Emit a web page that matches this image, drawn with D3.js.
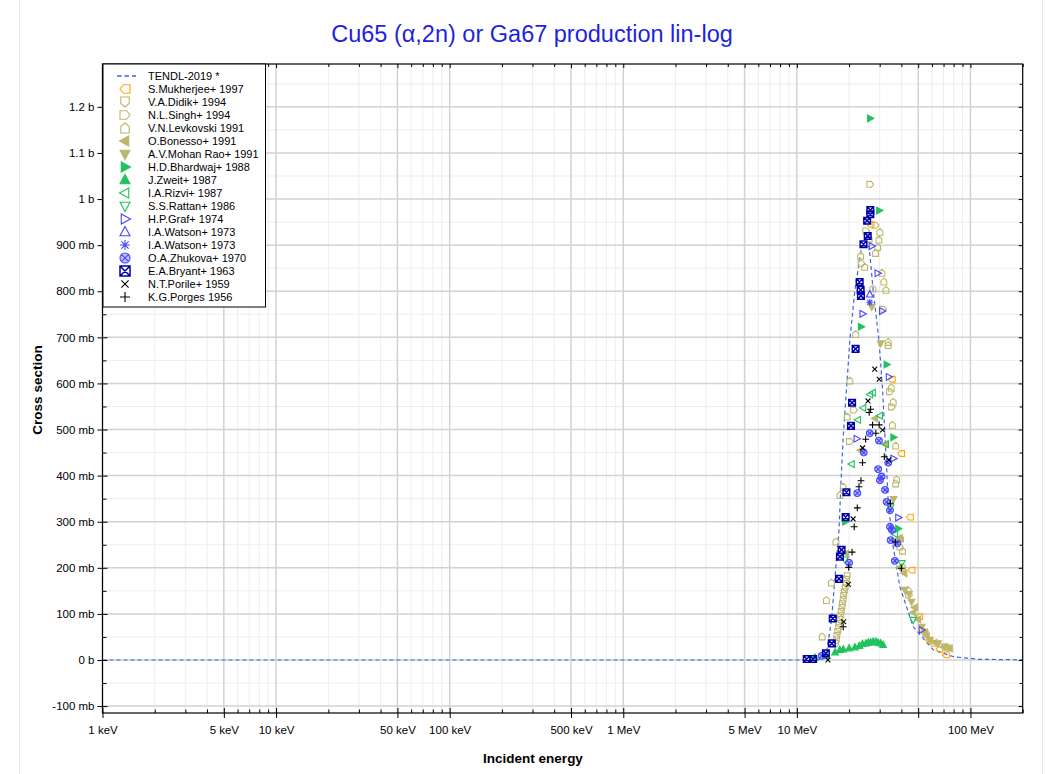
<!DOCTYPE html>
<html><head><meta charset="utf-8">
<script src="https://cdn.jsdelivr.net/npm/d3@7"></script>
<style>
body{margin:0;background:#fff}
text{font-family:"Liberation Sans",Arial,sans-serif}
</style>
</head><body>
<svg id="c" width="1053" height="774"></svg>
<script>
// ---------- DATA (energy in MeV, cross section in mb) ----------
const xTickValues = [0.001,0.005,0.01,0.05,0.1,0.5,1,5,10,100];
const xTickLabels = ["1 keV","5 keV","10 keV","50 keV","100 keV","500 keV","1 MeV","5 MeV","10 MeV","100 MeV"];
const yTickValues = [-100,0,100,200,300,400,500,600,700,800,900,1000,1100,1200];
const yTickLabels = ["-100 mb","0 b","100 mb","200 mb","300 mb","400 mb","500 mb","600 mb","700 mb","800 mb","900 mb","1 b","1.1 b","1.2 b"];

const tendlE = [0.001,13.0,13.6,14.8,15.85,16.6,17.5,17.9,18.5,19.3,20.2,21.6,23.6,24.8,26.1,27.5,29.7,31.2,32.2,32.6,33.6,35.9,39.2,46.8,61.1,80,113,200];
const tendlV = [0,0,1.5,14.5,87,181,282,376,484,586,694,803,896,900,896,803,694,586,484,448,340,246,159,72,22,7,1.5,0.3];

const mukherjee = [[26.6,945],[35.2,609],[39.9,448],[44.8,310],[45.8,195],[50.7,94],[54.0,61],[57.9,43],[61.1,36],[66.2,23],[72.2,11]];
const didik = [[16.7,35],[16.9,43],[17.0,52],[17.2,61],[17.4,69],[17.5,78],[17.7,87],[17.9,95],[18.0,104],[18.2,113],[18.3,121],[18.5,130],[18.6,139],[18.8,147],[19.0,156],[19.2,165],[19.3,174],[19.5,182]];
const singh = [[26.5,1032],[28.4,943],[25.1,931],[23.6,860],[31.4,761],[34.4,582],[35.3,549],[21.4,542],[20.2,474],[44.3,141]];
const levkovski = [[30.1,929],[26.1,914],[29.7,912],[29.2,896],[28.4,883],[23.3,877],[24.6,853],[30.9,840],[31.7,821],[32.6,803],[27.4,806],[33.6,690],[33.6,683],[21.8,707],[35.0,591],[20.2,606],[35.9,560],[19.5,528],[35.5,510],[37.1,465],[18.5,376],[37.5,392],[37.1,383],[17.7,358],[40.6,237],[40.6,202],[15.8,168],[14.0,51],[14.8,130],[16.8,257],[39.6,264],[39.2,246],[43.7,152]];
const bonesso = [[28.2,524],[32.2,468],[23.3,455],[39.2,264],[19.2,231],[39.2,201],[41.6,188],[47.8,114],[46.8,103],[50,88],[56,52],[62,38],[70,28],[76,25]];
const mohanRao = [[27.0,766],[30.4,687],[36.0,349],[41.9,152],[44.3,143],[45.8,126],[52.4,72],[54.7,58],[58.4,43],[65.2,36],[71.1,29],[74,27]];
const bhardwaj = [[26.45,1175],[29.8,975],[23.4,723],[32.9,641],[36.0,483],[38.4,285],[19.0,300]];
const zweit = [[12.7,5],[14.8,9],[16.6,16.7],[17.7,21.7],[18.5,23.2],[20.0,25.4],[21.6,27.5],[22.9,30.4],[23.9,34.7],[25.0,36.2],[25.8,37.5],[26.6,38.4],[27.5,39.7],[28.5,39.7],[29.4,37.5],[30.4,36.2],[31.4,32.5]];
const rizvi = [[27.4,580],[26.4,576],[24.1,547],[30.1,530],[22.5,521],[20.7,425],[32.6,468],[36.8,273]];
const rattan = [[34.6,331],[18.9,218],[46.8,87],[40.2,210]];
const graf = [[27.0,898],[29.2,839],[23.9,751],[31.0,757],[33.9,614],[22.1,480],[36.0,437],[38.4,309],[52.4,65]];
const watsonA = [[26.3,793]];
const watsonB = [[26.3,776]];
const zhukova = [[26.3,492],[29.7,476],[24.3,450],[29.4,414],[30.8,398],[30.1,390],[32.2,369],[22.3,362],[32.9,343],[34.4,325],[34.4,289],[35.3,282],[34.7,260],[36.7,215],[20.0,211],[13.9,9],[33.6,428],[37.9,253]];
const bryant = [[26.5,976],[26.5,967],[25.4,953],[25.6,920],[24.2,902],[23.0,820],[23.3,803],[23.4,790],[21.8,675],[20.8,558],[20.5,508],[19.3,364],[19.1,310],[18.1,239],[17.7,224],[17.5,176],[16.1,90],[15.9,36],[14.7,14.5],[12.4,2.2],[11.4,2.2]];
const porile = [[28.1,631],[29.8,609],[25.7,562],[31.2,499],[23.9,460],[33.9,434],[21.1,306],[19.8,164],[18.6,83],[15.1,0]];
const porges = [[26.6,544],[26.1,537],[27.3,510],[29.8,510],[28.5,492],[24.9,479],[23.9,428],[23.4,389],[22.8,376],[31.9,441],[34.6,340],[22.3,330],[21.4,289],[36.9,256],[20.8,234],[19.9,201],[40.0,199],[18.5,72]];

const seriesNames = ["S.Mukherjee+ 1997","V.A.Didik+ 1994","N.L.Singh+ 1994","V.N.Levkovski 1991","O.Bonesso+ 1991","A.V.Mohan Rao+ 1991","H.D.Bhardwaj+ 1988","J.Zweit+ 1987","I.A.Rizvi+ 1987","S.S.Rattan+ 1986","H.P.Graf+ 1974","I.A.Watson+ 1973","I.A.Watson+ 1973","O.A.Zhukova+ 1970","E.A.Bryant+ 1963","N.T.Porile+ 1959","K.G.Porges 1956"];
const seriesData = [mukherjee,didik,singh,levkovski,bonesso,mohanRao,bhardwaj,zweit,rizvi,rattan,graf,watsonA,watsonB,zhukova,bryant,porile,porges];

// ---------- STYLES ----------
const ORANGE="#ffa500", KHAKI="#bdb76b", GREEN="#1fc35c", BLUE="#4646ff", NAVY="#0000a8";
const styles = [
 {c:ORANGE,s:"houseL",f:false},{c:KHAKI,s:"houseD",f:false},{c:KHAKI,s:"houseR",f:false},{c:KHAKI,s:"houseU",f:false},
 {c:KHAKI,s:"triL",f:true},{c:KHAKI,s:"triD",f:true},{c:GREEN,s:"triR",f:true},{c:GREEN,s:"triU",f:true},
 {c:GREEN,s:"triL",f:false},{c:GREEN,s:"triD",f:false},{c:BLUE,s:"triR",f:false},{c:BLUE,s:"triU",f:false},
 {c:BLUE,s:"star",f:false},{c:BLUE,s:"circX",f:false,semi:true},{c:NAVY,s:"sqX",f:false,thick:true},
 {c:"#000",s:"x",f:false},{c:"#000",s:"plus",f:false}
];

const house=[[0,-1],[0.85,-0.3],[0.85,1],[-0.85,1],[-0.85,-0.3]];
const tri=[[0,-1.1],[1,0.75],[-1,0.75]];
function poly(pts,r,deg){const a=deg*Math.PI/180,c=Math.cos(a),s=Math.sin(a);
 return "M"+pts.map(([px,py])=>((px*c-py*s)*r).toFixed(2)+","+((px*s+py*c)*r).toFixed(2)).join("L")+"Z";}
function symPath(shape,r){
 const k=0.72*r;
 switch(shape){
  case "houseU":return poly(house,r,0);
  case "houseR":return poly(house,r,90);
  case "houseD":return poly(house,r,180);
  case "houseL":return poly(house,r,270);
  case "triU":return poly(tri,r,0);
  case "triR":return poly(tri,r,90);
  case "triD":return poly(tri,r,180);
  case "triL":return poly(tri,r,270);
  case "star":return `M${-r},0L${r},0M0,${-r}L0,${r}M${-k},${-k}L${k},${k}M${-k},${k}L${k},${-k}`;
  case "x":return `M${-k},${-k}L${k},${k}M${-k},${k}L${k},${-k}`;
  case "plus":return `M${-r},0L${r},0M0,${-r}L0,${r}`;
  case "circX":return `M${r},0A${r},${r} 0 1 1 ${-r},0A${r},${r} 0 1 1 ${r},0ZM${-k},${-k}L${k},${k}M${-k},${k}L${k},${-k}`;
  case "sqX":return `M${-r},${-r}L${r},${-r}L${r},${r}L${-r},${r}ZM${-r},${-r}L${r},${r}M${-r},${r}L${r},${-r}`;
 }
}

// ---------- LAYOUT ----------
const svg=d3.select("#c");
const L=102.5,R=1022.7,T=64,B=713;
const x=d3.scaleLog().domain([0.001,200]).range([L,R]);
const y=d3.scaleLinear().domain([-115,1293]).range([B,T]);

// faint outer border
svg.append("line").attr("x1",19.5).attr("x2",19.5).attr("y1",0).attr("y2",774).attr("stroke","#e8e8e8");
svg.append("line").attr("x1",1042.5).attr("x2",1042.5).attr("y1",0).attr("y2",774).attr("stroke","#e8e8e8");

// grid values
const xMinor=[],xMajor=[];
for(let d=-3;d<=2;d++)for(let m=1;m<=9;m++){const v=m*Math.pow(10,d);if(v>200.0001)continue;(m===1||m===5?xMajor:xMinor).push(v);}
const yMinor=d3.range(-100,1300,50).filter(v=>v%100!==0);
const yMajor=yTickValues;

const g=svg.append("g");
g.selectAll(".gxm").data(xMinor).join("line").attr("x1",d=>x(d)).attr("x2",d=>x(d)).attr("y1",T).attr("y2",B).attr("stroke","#ededed").attr("stroke-width",1);
g.selectAll(".gym").data(yMinor).join("line").attr("x1",L).attr("x2",R).attr("y1",d=>y(d)).attr("y2",d=>y(d)).attr("stroke","#ededed").attr("stroke-width",1);
g.selectAll(".gxM").data(xMajor).join("line").attr("x1",d=>x(d)).attr("x2",d=>x(d)).attr("y1",T).attr("y2",B).attr("stroke","#d2d2d2").attr("stroke-width",1.5);
g.selectAll(".gyM").data(yMajor).join("line").attr("x1",L).attr("x2",R).attr("y1",d=>y(d)).attr("y2",d=>y(d)).attr("stroke","#d2d2d2").attr("stroke-width",1.5);

// clip
svg.append("clipPath").attr("id","clip").append("rect").attr("x",L).attr("y",T).attr("width",R-L).attr("height",B-T);
const plot=svg.append("g").attr("clip-path","url(#clip)");

// TENDL line
const tendl=tendlE.map((e,i)=>[e,tendlV[i]]);
plot.append("path").datum(tendl).attr("fill","none").attr("stroke","#3d64e6").attr("stroke-width",1.2)
 .attr("stroke-dasharray","4,3").attr("d",d3.line().x(d=>x(d[0])).y(d=>y(d[1])));

function styleSym(sel,st,r){
 sel.attr("stroke",st.c).attr("stroke-width",st.thick?1.5:1.1)
  .attr("fill",st.f?st.c:(st.semi?"rgba(70,70,255,0.35)":"none"))
  .attr("d",symPath(st.s,r));
}
seriesData.forEach((data,i)=>{
 const st=styles[i];
 plot.append("g").selectAll("path").data(data).join("path")
  .attr("transform",d=>`translate(${x(d[0])},${y(d[1])})`)
  .call(s=>styleSym(s,st,st.s==="sqX"?3.3:3.4));
});

// axes
const fmtX=d=>xTickLabels[xTickValues.indexOf(d)];
const fmtY=d=>yTickLabels[yTickValues.indexOf(d)];
function clean(a){a.select(".domain").remove();a.selectAll("line").attr("stroke","#000");a.selectAll("text").attr("font-size","11.5px").attr("fill","#000").attr("font-family","'Liberation Sans',Arial,sans-serif");}
// bottom: labels + outward major ticks
svg.append("g").attr("transform",`translate(0,${B})`).call(d3.axisBottom(x).tickValues(xTickValues).tickFormat(fmtX).tickSize(5).tickPadding(8)).call(clean);
svg.append("g").attr("transform",`translate(0,${B})`).call(d3.axisBottom(x).tickValues([50]).tickFormat("").tickSize(5)).call(clean);
// bottom inward ticks
svg.append("g").attr("transform",`translate(0,${B})`).call(d3.axisTop(x).tickValues(xMajor).tickFormat("").tickSize(5)).call(clean);
svg.append("g").attr("transform",`translate(0,${B})`).call(d3.axisTop(x).tickValues(xMinor).tickFormat("").tickSize(3.5)).call(clean);
// top inward ticks
svg.append("g").attr("transform",`translate(0,${T})`).call(d3.axisBottom(x).tickValues(xMajor).tickFormat("").tickSize(4)).call(clean);
svg.append("g").attr("transform",`translate(0,${T})`).call(d3.axisBottom(x).tickValues(xMinor).tickFormat("").tickSize(3)).call(clean);
// left
svg.append("g").attr("transform",`translate(${L},0)`).call(d3.axisLeft(y).tickValues(yTickValues).tickFormat(fmtY).tickSize(5).tickPadding(3)).call(clean);
svg.append("g").attr("transform",`translate(${L},0)`).call(d3.axisRight(y).tickValues(yMajor).tickFormat("").tickSize(5)).call(clean);
svg.append("g").attr("transform",`translate(${L},0)`).call(d3.axisRight(y).tickValues(yMinor).tickFormat("").tickSize(4)).call(clean);
// right inward
svg.append("g").attr("transform",`translate(${R},0)`).call(d3.axisLeft(y).tickValues(yMajor).tickFormat("").tickSize(4)).call(clean);
svg.append("g").attr("transform",`translate(${R},0)`).call(d3.axisLeft(y).tickValues(yMinor).tickFormat("").tickSize(3)).call(clean);

// frame
svg.append("rect").attr("x",L).attr("y",T).attr("width",R-L).attr("height",B-T).attr("fill","none").attr("stroke","#000").attr("stroke-width",1.2);

// legend
const lg=svg.append("g");
const LX=103,LY=64,step=13,first=76;
lg.append("rect").attr("x",LX).attr("y",LY).attr("width",162.5).attr("height",243).attr("fill","#fff").attr("stroke","#000").attr("stroke-width",1);
lg.append("line").attr("x1",117).attr("x2",136).attr("y1",first).attr("y2",first).attr("stroke","#3d64e6").attr("stroke-width",1.5).attr("stroke-dasharray","4.5,3");
lg.append("text").attr("x",148).attr("y",first).attr("dy","0.35em").attr("font-size","11px").text("TENDL-2019 *");
seriesNames.forEach((n,i)=>{
 const yy=first+step*(i+1);
 lg.append("path").attr("transform",`translate(125,${yy})`).call(s=>styleSym(s,styles[i],5));
 lg.append("text").attr("x",148).attr("y",yy).attr("dy","0.35em").attr("font-size","11px").text(n);
});

// titles
svg.append("text").attr("x",532).attr("y",42).attr("text-anchor","middle").attr("font-size","23.5px").attr("fill","#1f1fe0").text("Cu65 (α,2n) or Ga67 production lin-log");
svg.append("text").attr("x",533).attr("y",763).attr("text-anchor","middle").attr("font-size","13.5px").attr("font-weight","bold").text("Incident energy");
svg.append("text").attr("transform","translate(42,390) rotate(-90)").attr("text-anchor","middle").attr("font-size","13.5px").attr("font-weight","bold").text("Cross section");
</script>
</body></html>
